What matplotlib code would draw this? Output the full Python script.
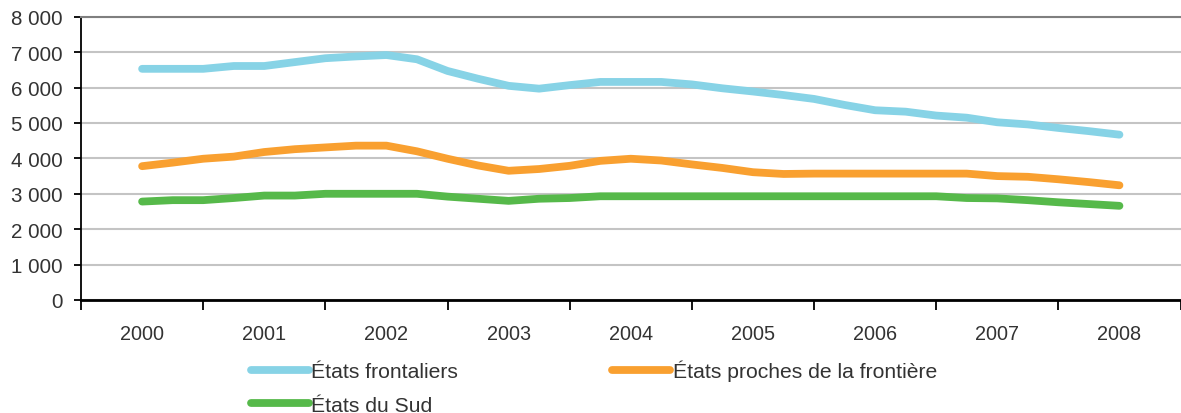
import numpy as np
import matplotlib
matplotlib.use('Agg')
import matplotlib.pyplot as plt
from matplotlib.ticker import FixedLocator

plt.rcParams['font.family'] = ['Liberation Sans', 'DejaVu Sans']

# quarterly points, in years after 2000
t = np.arange(33) * 0.25
years = ['2000', '2001', '2002', '2003', '2004', '2005', '2006', '2007', '2008']

frontaliers = [6530, 6530, 6530, 6610, 6610, 6720, 6830, 6880, 6920, 6800, 6470,
               6250, 6050, 5970, 6070, 6160, 6160, 6160, 6090, 5980, 5890, 5790,
               5680, 5510, 5360, 5320, 5210, 5150, 5020, 4960, 4860, 4770, 4670]
proches = [3780, 3880, 3990, 4050, 4180, 4260, 4310, 4360, 4360, 4200, 3990,
           3800, 3650, 3700, 3790, 3930, 3990, 3940, 3830, 3730, 3610, 3560,
           3570, 3570, 3570, 3570, 3570, 3570, 3500, 3480, 3410, 3330, 3240]
sud = [2780, 2820, 2820, 2880, 2950, 2950, 3000, 3000, 3000, 3000, 2920,
       2860, 2800, 2860, 2880, 2930, 2930, 2930, 2930, 2930, 2930, 2930,
       2930, 2930, 2930, 2930, 2930, 2880, 2870, 2820, 2760, 2710, 2660]

noms = ['États frontaliers', 'États proches de la frontière', 'États du Sud']
couleurs = ['#87D3E6', '#F9A030', '#56B94A']
y_ticks = [0, 1000, 2000, 3000, 4000, 5000, 6000, 7000, 8000]
y_labels = ['0', '1 000', '2 000', '3 000', '4 000', '5 000', '6 000', '7 000', '8 000']

fig = plt.figure(figsize=(11.81, 4.14), dpi=100)
ax = fig.add_axes([0.0686, 0.273, 0.931, 0.684])

lignes = []
for serie, nom, c in zip([frontaliers, proches, sud], noms, couleurs):
    l, = ax.plot(t, serie, color=c, lw=5.6, solid_capstyle='round',
                 solid_joinstyle='round', label=nom, zorder=3)
    lignes.append(l)

ax.set_xlim(-0.5, 8.5)
ax.set_ylim(0, 8000)
ax.set_yticks(y_ticks)
ax.set_yticklabels(y_labels)
ax.set_xticks(range(len(years)))
ax.set_xticklabels(years)
ax.xaxis.set_minor_locator(FixedLocator(np.arange(-0.5, 9, 1)))
ax.tick_params(axis='x', which='major', length=0, pad=17, labelsize=14.3, labelcolor='#333333')
ax.tick_params(axis='x', which='minor', length=7, width=1.3, direction='out', color='black')
ax.tick_params(axis='y', length=5, width=1.3, labelsize=14.8, labelcolor='#333333', pad=8)

ax.grid(axis='y', color='#c4c4c4', lw=1.5, zorder=0)
ax.set_axisbelow(True)
ax.spines['right'].set_visible(False)
ax.spines['top'].set_color('#7f7f7f')
ax.spines['top'].set_linewidth(1.5)
ax.spines['left'].set_linewidth(1.3)
ax.spines['bottom'].set_linewidth(2)

# order so that row 1 holds the first two series
leg = fig.legend([lignes[0], lignes[2], lignes[1]], [noms[0], noms[2], noms[1]],
                 ncol=2, loc='upper left', bbox_to_anchor=(0.205, 0.149),
                 frameon=False, fontsize=15.2, handlelength=2.75, handletextpad=0.12,
                 columnspacing=7.3, labelspacing=0.68, borderaxespad=0)
for txt in leg.get_texts():
    txt.set_color('#333333')

fig.savefig('out.png', dpi=100)
